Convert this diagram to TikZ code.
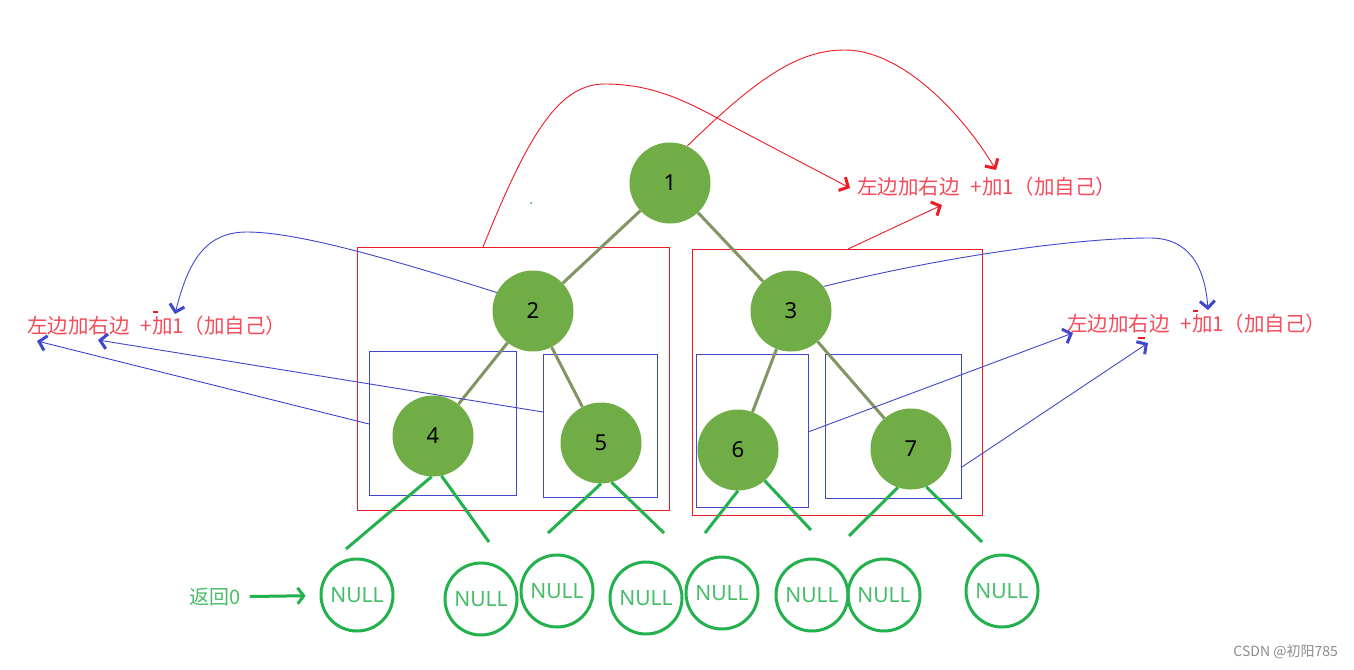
\documentclass[tikz,border=0pt]{standalone}
\usepackage{fontspec}
\setmainfont{Noto Sans}
\newfontfamily\cjk{Noto Sans CJK SC}
\usetikzlibrary{arrows.meta}
\definecolor{treegreen}{RGB}{112,173,71}
\definecolor{edgegreen}{RGB}{130,150,100}
\definecolor{nullgreen}{RGB}{34,177,76}
\definecolor{nulltext}{RGB}{70,190,105}
\definecolor{boxred}{RGB}{237,28,36}
\definecolor{txtred}{RGB}{245,75,90}
\definecolor{pblue}{RGB}{63,72,204}
\tikzset{
  tnode/.style={circle, fill=treegreen, minimum size=81pt, inner sep=0pt, font=\fontsize{22}{22}\selectfont},
  tedge/.style={draw=edgegreen, line width=3pt},
  nnode/.style={circle, draw=nullgreen, line width=3pt, minimum size=72pt, inner sep=0pt, text=nulltext, font=\fontsize{21}{21}\selectfont},
  nline/.style={draw=nullgreen, line width=3pt},
  rbox/.style={draw=boxred, color=boxred, line width=1pt, inner sep=0pt},
  bbox/.style={draw=pblue, color=pblue, line width=1pt, inner sep=0pt},
  rtxt/.style={text=txtred, anchor=west, inner sep=0pt, font=\cjk\fontsize{20.5}{21}\selectfont},
  rcurve/.style={draw=boxred, line width=0.9pt, -{Straight Barb[length=7pt,width=15pt,line width=3pt]}},
  bcurve/.style={draw=pblue, line width=0.9pt, -{Straight Barb[length=7pt,width=15pt,line width=3pt]}},
}
\newcommand{\redlabel}{左边加右边\hspace{11pt}+加1（加自己）}
\begin{document}
\begin{tikzpicture}[x=1pt,y=-1pt]
\fill[white] (0,0) rectangle (1354,669);
\useasboundingbox (0,0) rectangle (1354,669);
% boxes
\node[rbox, minimum width=312pt, minimum height=263pt] (rbL) at (513,378.5) {};
\node[rbox, minimum width=290pt, minimum height=266pt] (rbR) at (837,382) {};
\node[bbox, minimum width=147pt, minimum height=144pt] (bb4) at (442.5,423) {};
\node[bbox, minimum width=114pt, minimum height=143pt] (bb5) at (600,425.5) {};
\node[bbox, minimum width=112pt, minimum height=153pt] (bb6) at (752,430.5) {};
\node[bbox, minimum width=136pt, minimum height=144pt] (bb7) at (893,426) {};
% tree
\node[tnode] (n1) at (670,183) {1};
\node[tnode] (n2) at (533,311) {2};
\node[tnode] (n3) at (791,311) {3};
\node[tnode] (n4) at (433,436) {4};
\node[tnode] (n5) at (601,443) {5};
\node[tnode] (n6) at (738,450) {6};
\node[tnode] (n7) at (911,449) {7};
\draw[tedge] (n1) -- (n2);
\draw[tedge] (n1) -- (n3);
\draw[tedge] (n2) -- (n4);
\draw[tedge] (n2) -- (n5);
\draw[tedge] (n3) -- (n6);
\draw[tedge] (n3) -- (n7);
% NULL nodes
\node[nnode] (u1) at (357,595) {NULL};
\node[nnode] (u2) at (481,599) {NULL};
\node[nnode] (u3) at (557,591) {NULL};
\node[nnode] (u4) at (646,598) {NULL};
\node[nnode] (u5) at (722,593) {NULL};
\node[nnode] (u6) at (812,595) {NULL};
\node[nnode] (u7) at (884,595) {NULL};
\node[nnode] (u8) at (1002,591) {NULL};
% green free lines
\coordinate (e4l) at (346,549); \coordinate (e4r) at (489,542);
\coordinate (e5l) at (548,533); \coordinate (e5r) at (664,533);
\coordinate (e6l) at (705,533); \coordinate (e6r) at (811,530);
\coordinate (e7l) at (849,536); \coordinate (e7r) at (982,542);
\draw[nline] (n4.-92) -- (e4l);
\draw[nline] (n4.-78) -- (e4r);
\draw[nline] (n5.-90) -- (e5l);
\draw[nline] (n5.-75) -- (e5r);
\draw[nline] (n6.-90) -- (e6l);
\draw[nline] (n6.-49) -- (e6r);
\draw[nline] (n7.-109) -- (e7l);
\draw[nline] (n7.-68) -- (e7r);
% return 0
\node[text=nulltext, font=\cjk\fontsize{20}{20}\selectfont, inner sep=0pt] (ret) at (215,597) {返回0};
\draw[draw=nullgreen, line width=3pt, shorten <=9pt, shorten >=14pt, -{Straight Barb[length=6pt,width=16pt,line width=3pt]}] (ret) -- (u1);
% red texts
\node[rtxt] (tTop) at (857,187) {\redlabel};
\node[rtxt] (tLeft) at (27,326) {\redlabel};
\node[rtxt] (tRight) at (1067,324) {\redlabel};
% red connectors
\coordinate (a0) at (483,247);
\coordinate (aP) at (605,84);
\coordinate (aM) at (730,125);
\coordinate (aE) at (850,188);
\draw[rcurve] (a0) .. controls (530,130) and (560,84) .. (aP) .. controls (655,84) and (690,103) .. (aM) -- (aE);
\coordinate (bP) at (845,50);
\coordinate (bE) at (996,170);
\draw[rcurve] (n1.65) .. controls (760,75) and (800,50) .. (bP) .. controls (900,50) and (960,110) .. (bE);
\coordinate (c0) at (848,249);
\coordinate (cE) at (942,205);
\draw[rcurve] (c0) -- (cE);
% blue connectors
\coordinate (dP) at (247,232);
\coordinate (dE) at (175,314);
\draw[bcurve] (n2.153) .. controls (400,262) and (300,232) .. (dP) .. controls (205,232) and (188,262) .. (dE);
\coordinate (f0) at (543,412);
\coordinate (fE) at (98,340);
\draw[bcurve] (f0) -- (fE);
\coordinate (g0) at (369,424);
\coordinate (gE) at (37,341);
\draw[bcurve] (g0) -- (gE);
\coordinate (hP) at (1150,238);
\coordinate (hE) at (1208,310);
\draw[bcurve] (n3.37) .. controls (950,255) and (1080,238) .. (hP) .. controls (1190,238) and (1205,268) .. (hE);
\coordinate (k0) at (808,432);
\coordinate (kE) at (1073,333);
\draw[bcurve] (k0) -- (kE);
\coordinate (m0) at (962,467);
\coordinate (mE) at (1148,343);
\draw[bcurve] (m0) -- (mE);
% tiny marks
\draw[boxred, line width=1.5pt] (153,312) -- (158,312);
\draw[boxred, line width=1.5pt] (1193,311) -- (1198,311);
\draw[boxred, line width=1.5pt] (1138,338) -- (1145,338);
\fill[nullgreen] (531,203) circle (1pt);
% watermark
\node[text=black!45, font=\cjk\fontsize{14}{14}\selectfont, anchor=east, inner sep=0pt] (wm) at (1338,652) {CSDN @初阳785};
\end{tikzpicture}
\end{document}
